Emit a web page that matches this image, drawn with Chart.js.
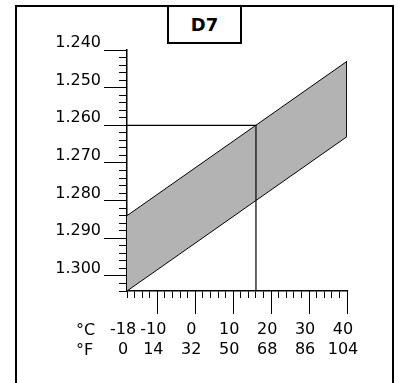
<!DOCTYPE html>
<html>
<head>
<meta charset="utf-8">
<script src="https://cdn.jsdelivr.net/npm/chart.js@4/dist/chart.umd.min.js"></script>
<style>
  html, body { margin: 0; padding: 0; background: #fff; }
  #wrap { position: relative; width: 398px; height: 383px; overflow: hidden; font-family: 'DejaVu Sans', sans-serif; }
  #frame { position: absolute; left: 15px; top: 5px; width: 379px; height: 420px; border: 2px solid #000; box-sizing: border-box; }
  #title { position: absolute; left: 167px; top: 5px; width: 75px; height: 39px; border: 2px solid #000; box-sizing: border-box; background: #fff;
           font-weight: bold; font-size: 18px; line-height: 35px; text-align: center; color: #000; }
  .unit { position: absolute; left: 76px; font-size: 16px; line-height: 20px; color: #000; }
  #c { position: absolute; left: 0; top: 0; }
</style>
</head>
<body>
<div id="wrap">
  <div id="frame"></div>
  <canvas id="c" width="398" height="383"></canvas>
  <div id="title">D7</div>
  <div class="unit" style="top:320px">°C</div>
  <div class="unit" style="top:340px">°F</div>
</div>
<script>
// ---- data ----
const tempC = [-18, 40];                 // band end temperatures (°C)
const sgUpper = [1.284, 1.243];          // band edge nearer the top of the chart
const sgLower = [1.304, 1.263];          // band edge nearer the bottom of the chart
const readTempC = [-18, 16, 16];         // reading guide line
const readSG = [1.260, 1.260, 1.304];
const celsiusTicks = [-18, -10, 0, 10, 20, 30, 40];
const fahrenheitTicks = ['0', '14', '32', '50', '68', '86', '104'];
const sgTicks = [1.240, 1.250, 1.260, 1.270, 1.280, 1.290, 1.300];
const sgMin = 1.240, sgMax = 1.304;
const xMin = -18, xMax = 40;

const minorX = [];
for (let v = xMin; v <= xMax; v += 2) minorX.push(v);
const minorY = [];
for (let i = 0; i <= Math.round((sgMax - sgMin) / 0.002); i++) minorY.push(Math.round((sgMin + i * 0.002) * 1000) / 1000);

Chart.defaults.font.family = "'DejaVu Sans', sans-serif";
Chart.defaults.color = '#000';

const pts = (xs, ys) => xs.map((x, i) => ({x, y: ys[i]}));

new Chart(document.getElementById('c'), {
  type: 'line',
  data: {
    datasets: [
      { data: pts(tempC, sgUpper), borderColor: '#000', borderWidth: 1, backgroundColor: '#b3b3b3', fill: '+1', pointRadius: 0 },
      { data: pts(tempC, sgLower), borderColor: '#000', borderWidth: 1, fill: false, pointRadius: 0 },
      { data: [{x: tempC[1], y: sgUpper[1]}, {x: tempC[1], y: sgLower[1]}], borderColor: '#000', borderWidth: 1, fill: false, pointRadius: 0 },
      { data: pts(readTempC, readSG), borderColor: '#000', borderWidth: 1.2, fill: false, pointRadius: 0 }
    ]
  },
  options: {
    responsive: false,
    animation: false,
    events: [],
    layout: { padding: { left: 0, top: 50, right: 51, bottom: 0 } },
    plugins: {
      legend: { display: false }, tooltip: { enabled: false }, title: { display: false },
      filler: { drawTime: 'beforeDatasetsDraw' }
    },
    scales: {
      x: {
        type: 'linear', axis: 'x', position: 'bottom', weight: 0, min: xMin, max: xMax,
        afterBuildTicks: s => { s.ticks = minorX.map(v => ({value: v})); },
        afterFit: s => { s.height = 0; },
        grid: { display: true, drawOnChartArea: false, drawTicks: true, tickLength: 7, color: '#000', tickColor: '#000', tickWidth: 1 },
        border: { display: true, color: '#000', width: 1.5 },
        ticks: { display: false }
      },
      x2: {
        type: 'linear', axis: 'x', position: 'bottom', weight: 1, min: xMin, max: xMax,
        afterBuildTicks: s => { s.ticks = celsiusTicks.map(v => ({value: v})); },
        afterFit: s => { s.height = 92; },
        grid: { display: true, drawOnChartArea: false, drawTicks: true, tickLength: 23, color: '#000', tickWidth: 1,
                tickColor: ctx => (ctx.tick && ctx.tick.value === xMin) ? 'rgba(0,0,0,0)' : '#000' },
        border: { display: false },
        ticks: {
          autoSkip: false, maxRotation: 0, minRotation: 0, padding: 6, labelOffset: -4,
          font: { size: 16, lineHeight: 1.25 }, color: '#000',
          callback: (v, i) => [String(celsiusTicks[i]), fahrenheitTicks[i]]
        }
      },
      y: {
        type: 'linear', axis: 'y', position: 'left', weight: 0, min: sgMin, max: sgMax, reverse: true,
        afterBuildTicks: s => { s.ticks = minorY.map(v => ({value: v})); },
        afterFit: s => { s.width = 0; },
        grid: { display: true, drawOnChartArea: false, drawTicks: true, tickLength: 8, color: '#000', tickColor: '#000', tickWidth: 1 },
        border: { display: true, color: '#000', width: 1.5 },
        ticks: { display: false }
      },
      y2: {
        type: 'linear', axis: 'y', position: 'left', weight: 1, min: sgMin, max: sgMax, reverse: true,
        afterBuildTicks: s => { s.ticks = sgTicks.map(v => ({value: v})); },
        afterFit: s => { s.width = 127; },
        grid: { display: true, drawOnChartArea: false, drawTicks: true, tickLength: 23, color: '#000', tickColor: '#000', tickWidth: 1 },
        border: { display: false },
        ticks: {
          autoSkip: false, padding: 3, labelOffset: -7,
          font: { size: 16 }, color: '#000',
          callback: v => v.toFixed(3)
        }
      }
    }
  }
});
</script>
</body>
</html>
